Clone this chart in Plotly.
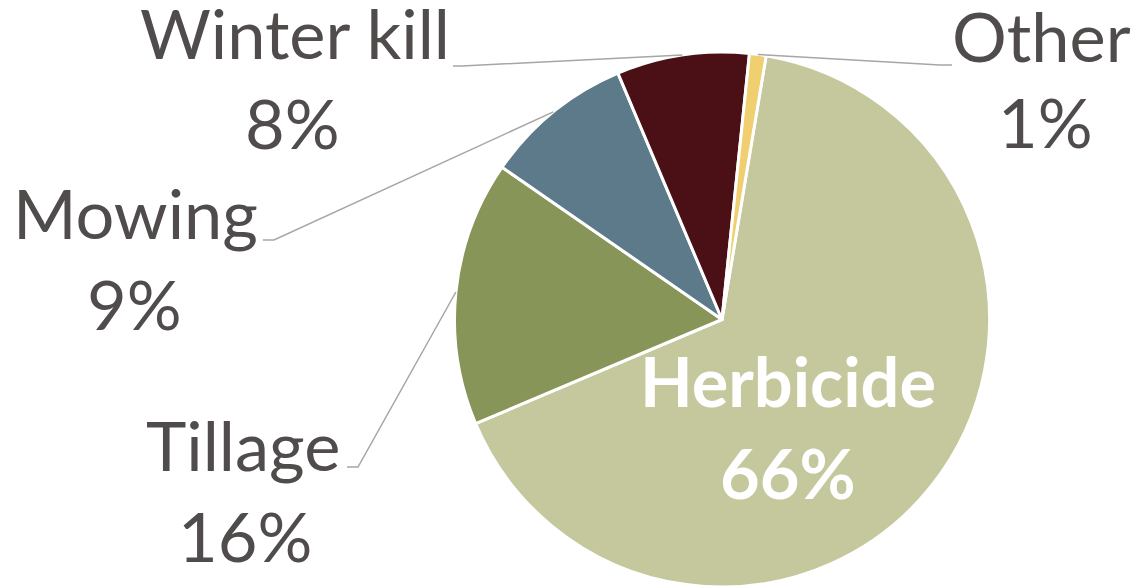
import math
import plotly.graph_objects as go

# data
labels = ['Herbicide', 'Tillage', 'Mowing', 'Winter kill', 'Other']
values = [66, 16, 9, 8, 1]
colors = ['#C5C89D', '#879558', '#5C7A8A', '#4B0F16', '#F0CF70']

W, H = 1138, 587
ROTATION = 9.5
FONT_SIZE = 68.5

# pie placement in pixels
cx, cy, r = 722, 319.5, 267.5


def px(x):
    return x / W


def py(y):
    return 1 - y / H


fig = go.Figure(go.Pie(
    labels=labels,
    values=values,
    sort=False,
    direction='clockwise',
    rotation=ROTATION,
    marker=dict(colors=colors, line=dict(color='white', width=3)),
    textinfo='none',
    hoverinfo='label+percent',
    domain=dict(x=[px(cx - r), px(cx + r)], y=[0, py(cy - r)]),
    showlegend=False,
))

# slice mid angles (clockwise from 12 o'clock) for leader-line anchors
total = sum(values)
mid_angles = {}
acc = 0
for lab, v in zip(labels, values):
    mid_angles[lab] = ROTATION + 360 * (acc + v / 2) / total
    acc += v


def edge_point(lab):
    a = math.radians(mid_angles[lab])
    return cx + r * math.sin(a), cy - r * math.cos(a)


def text_at(text, x, baseline, color, bold=False):
    # single-line annotation, centred on x, placed by its baseline
    if bold:
        text = f'<b>{text}</b>'
    return dict(
        x=px(x), y=py(baseline - 0.4 * FONT_SIZE), xref='paper', yref='paper',
        text=text, showarrow=False, xanchor='center', yanchor='middle',
        font=dict(family='Lato', size=FONT_SIZE, color=color),
    )


# label placement: name (x, baseline), value (x, baseline), elbow, end
label_pos = {
    'Winter kill': ((295, 60), (293, 150), (462, 66), (453, 66)),
    'Mowing': ((135, 240), (134, 331), (274, 240), (263, 240)),
    'Tillage': ((243, 472), (245, 563), (358, 467), (347, 467)),
    'Other': ((1041, 63), (1045, 149), (940, 65), (952, 65)),
}

txt_color = '#514C4C'
shapes = []
annotations = []
for lab, v in zip(labels, values):
    if lab not in label_pos:
        continue
    name_xy, val_xy, elbow, end = label_pos[lab]
    annotations.append(text_at(lab, *name_xy, txt_color))
    annotations.append(text_at(f'{v}%', *val_xy, txt_color))
    sx, sy = edge_point(lab)
    path = (f'M {px(sx)},{py(sy)} L {px(elbow[0])},{py(elbow[1])} '
            f'L {px(end[0])},{py(end[1])}')
    shapes.append(dict(type='path', path=path, xref='paper', yref='paper',
                       line=dict(color='#A6A6A6', width=1.5)))

# big slice label sits inside
annotations.append(text_at(labels[0], 788, 408, 'white', bold=True))
annotations.append(text_at(f'{values[0]}%', 788, 500, 'white', bold=True))

fig.update_layout(
    width=W, height=H,
    margin=dict(l=0, r=0, t=0, b=0),
    paper_bgcolor='white',
    plot_bgcolor='white',
    shapes=shapes,
    annotations=annotations,
)

fig.write_html('out.html', config={'displayModeBar': False},
               post_script="document.body.style.margin='0';")
